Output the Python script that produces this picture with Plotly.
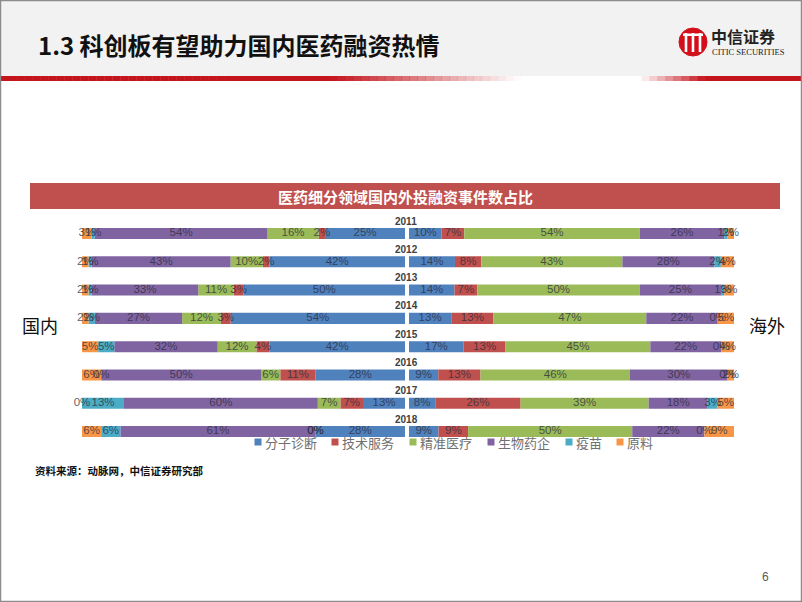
import plotly.graph_objects as go

# ---------------- data ----------------
years = ["2011", "2012", "2013", "2014", "2015", "2016", "2017", "2018"]
categories = ["分子诊断", "技术服务", "精准医疗", "生物药企", "疫苗", "原料"]
colors = ["#4F81BD", "#C0504D", "#9BBB59", "#8064A2", "#4BACC6", "#F79646"]

# 国内 (domestic)
dom_molecular = [25, 42, 50, 54, 42, 28, 13, 28]
dom_service = [2, 2, 3, 3, 4, 11, 7, 0]
dom_precision = [16, 10, 11, 12, 12, 6, 7, 0]
dom_biopharma = [54, 43, 33, 27, 32, 50, 60, 61]
dom_vaccine = [1, 1, 1, 2, 5, 0, 13, 6]
dom_material = [3, 2, 2, 2, 5, 6, 0, 6]

# 海外 (overseas)
ovs_molecular = [10, 14, 14, 13, 17, 9, 8, 9]
ovs_service = [7, 8, 7, 13, 13, 13, 26, 9]
ovs_precision = [54, 43, 50, 47, 45, 46, 39, 50]
ovs_biopharma = [26, 28, 25, 22, 22, 30, 18, 22]
ovs_vaccine = [1, 2, 1, 0, 0, 0, 3, 0]
ovs_material = [2, 4, 3, 5, 4, 2, 5, 9]

domestic = [dom_molecular, dom_service, dom_precision, dom_biopharma, dom_vaccine, dom_material]
overseas = [ovs_molecular, ovs_service, ovs_precision, ovs_biopharma, ovs_vaccine, ovs_material]

W, H = 802, 602


def px(x):
    return x / W


def py(y):
    return 1 - y / H


def normalize(series):
    totals = [sum(s[i] for s in series) for i in range(len(years))]
    return [[v / totals[i] * 100 for i, v in enumerate(s)] for s in series]


ypos = list(range(len(years)))
bar_w = 0.39
label_font = dict(family="Liberation Sans", size=11.5, color="rgba(45,45,60,0.78)")

fig = go.Figure()


def add_side(series, xaxis):
    norm = normalize(series)
    cum = [0.0] * len(years)
    lx, ly, lt = [], [], []
    for k, cat in enumerate(categories):
        fig.add_trace(go.Bar(
            y=ypos, x=norm[k], base=cum[:], orientation="h", name=cat,
            marker=dict(color=colors[k], line=dict(width=0)),
            width=bar_w, xaxis=xaxis, yaxis="y", showlegend=False,
            hoverinfo="skip", textposition="none",
        ))
        for i in range(len(years)):
            lx.append(cum[i] + norm[k][i] / 2)
            ly.append(ypos[i])
            lt.append(f"{series[k][i]}%")
            cum[i] += norm[k][i]
    fig.add_trace(go.Scatter(
        x=lx, y=ly, text=lt, mode="text", textfont=label_font,
        xaxis=xaxis, yaxis="y", showlegend=False, hoverinfo="skip",
        cliponaxis=False,
    ))


add_side(domestic, "x")
add_side(overseas, "x2")

row_px = (431.5 - 233.5) / 7
y_top = 233.5 - row_px / 2
y_bot = 431.5 + row_px / 2

shapes = []
annotations = []

# title band
shapes.append(dict(type="rect", xref="paper", yref="paper", x0=0, x1=1, y0=py(76), y1=1,
                   fillcolor="#F2F2F2", line=dict(width=0), layer="below"))
# gradient red line
stops = [(0, 1.0), (330, 1.0), (520, 0.0), (640, 0.0), (705, 1.0), (802, 1.0)]


def alpha_at(x):
    for (xa, aa), (xb, ab) in zip(stops[:-1], stops[1:]):
        if xa <= x <= xb:
            return aa + (ab - aa) * (x - xa) / (xb - xa)
    return 1.0


nseg = 100
for s in range(nseg):
    x0 = W * s / nseg
    x1 = W * (s + 1) / nseg
    a = alpha_at((x0 + x1) / 2)
    shapes.append(dict(type="rect", xref="paper", yref="paper", x0=px(x0), x1=px(x1) + 0.0005,
                       y0=py(81), y1=py(76), fillcolor=f"rgba(196,20,28,{a:.3f})",
                       line=dict(width=0), layer="below"))

# slide border
shapes.append(dict(type="rect", xref="paper", yref="paper", x0=0.0006, x1=0.9994, y0=0.0008, y1=0.9992,
                   line=dict(color="#8C8C8C", width=1.5), fillcolor="rgba(0,0,0,0)"))

# red banner
shapes.append(dict(type="rect", xref="paper", yref="paper", x0=px(30), x1=px(780), y0=py(209), y1=py(183),
                   fillcolor="#C0504D", line=dict(width=0), layer="below"))

# logo
shapes.append(dict(type="circle", xref="paper", yref="paper", x0=px(679), x1=px(707), y0=py(56), y1=py(28),
                   fillcolor="#D40F1C", line=dict(color="#D40F1C", width=1)))
for xx in (686, 693, 700):
    shapes.append(dict(type="rect", xref="paper", yref="paper", x0=px(xx - 1.3), x1=px(xx + 1.3),
                       y0=py(52), y1=py(33), fillcolor="white", line=dict(width=0)))
shapes.append(dict(type="rect", xref="paper", yref="paper", x0=px(683), x1=px(703),
                   y0=py(36), y1=py(33.5), fillcolor="white", line=dict(width=0)))

cjk = "Noto Sans CJK SC"

# legend (custom, keys as small squares)
legend_key_x = [258, 335, 413, 491, 569, 620]
legend_y = 442
for k, cat in enumerate(categories):
    cx = legend_key_x[k]
    shapes.append(dict(type="rect", xref="paper", yref="paper", x0=px(cx - 3.5), x1=px(cx + 3.5),
                       y0=py(legend_y + 3.5), y1=py(legend_y - 3.5), fillcolor=colors[k],
                       line=dict(width=0)))
    annotations.append(dict(text=cat, xref="paper", yref="paper", x=px(cx + 5), y=py(legend_y),
                            xanchor="left", yanchor="middle", showarrow=False,
                            font=dict(family=cjk, size=13, color="#707070")))

annotations.append(dict(text="1.3 科创板有望助力国内医药融资热情", xref="paper", yref="paper",
                        x=px(36), y=py(45), xanchor="left", yanchor="middle", showarrow=False,
                        font=dict(family=cjk, size=24, color="#111111", weight="bold")))
annotations.append(dict(text="中信证券", xref="paper", yref="paper", x=px(709), y=py(36),
                        xanchor="left", yanchor="middle", showarrow=False,
                        font=dict(family=cjk, size=16, color="#222222", weight="bold")))
annotations.append(dict(text="CITIC SECURITIES", xref="paper", yref="paper", x=px(710), y=py(52),
                        xanchor="left", yanchor="middle", showarrow=False,
                        font=dict(family="Liberation Sans Narrow", size=8.5, color="#222222")))
annotations.append(dict(text="医药细分领域国内外投融资事件数占比", xref="paper", yref="paper",
                        x=px(405), y=py(196), xanchor="center", yanchor="middle", showarrow=False,
                        font=dict(family=cjk, size=15, color="white", weight="bold")))
for i, yr in enumerate(years):
    annotations.append(dict(text=yr, xref="paper", yref="y", x=px(406), y=ypos[i] - 0.44,
                            xanchor="center", yanchor="middle", showarrow=False,
                            font=dict(family="Liberation Sans", size=10, color="#404040", weight="bold")))
annotations.append(dict(text="国内", xref="paper", yref="paper", x=px(40), y=py(325),
                        xanchor="center", yanchor="middle", showarrow=False,
                        font=dict(family=cjk, size=18, color="#111111")))
annotations.append(dict(text="海外", xref="paper", yref="paper", x=px(767), y=py(325),
                        xanchor="center", yanchor="middle", showarrow=False,
                        font=dict(family=cjk, size=18, color="#111111")))
annotations.append(dict(text="资料来源：动脉网，中信证券研究部", xref="paper", yref="paper",
                        x=px(33), y=py(470), xanchor="left", yanchor="middle", showarrow=False,
                        font=dict(family=cjk, size=10.5, color="#111111", weight="bold")))
annotations.append(dict(text="6", xref="paper", yref="paper", x=px(765), y=py(577),
                        xanchor="center", yanchor="middle", showarrow=False,
                        font=dict(family="Liberation Sans", size=12, color="#595959")))

fig.update_layout(
    width=W, height=H, margin=dict(l=0, r=0, t=0, b=0),
    paper_bgcolor="white", plot_bgcolor="rgba(0,0,0,0)",
    barmode="overlay",
    xaxis=dict(domain=[px(82), px(405)], range=[100, 0], visible=False, fixedrange=True),
    xaxis2=dict(domain=[px(409), px(734)], range=[0, 100], visible=False, fixedrange=True),
    yaxis=dict(domain=[py(y_bot), py(y_top)], range=[7.5, -0.5], visible=False, fixedrange=True),
    shapes=shapes, annotations=annotations,
    showlegend=False,
)

fig.write_html("out.html", config={"displayModeBar": False},
               post_script="document.body.style.margin='0';document.body.style.overflow='hidden';")
